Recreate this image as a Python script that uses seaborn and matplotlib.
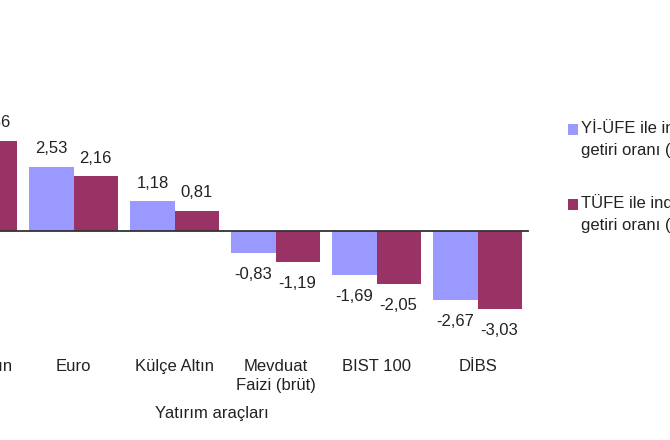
import numpy as np
import pandas as pd
import matplotlib
matplotlib.use('Agg')
import matplotlib.pyplot as plt
from matplotlib.patches import Patch, Rectangle
from matplotlib.legend_handler import HandlerPatch
import seaborn as sns

# values (first group is cropped in the reference)
categories = ['Gram Altın', 'Euro', 'Külçe Altın', 'Mevduat\nFaizi (brüt)', 'BIST 100', 'DİBS']
yi_ufe = [3.93, 2.53, 1.18, -0.83, -1.69, -2.67]
tufe = [3.56, 2.16, 0.81, -1.19, -2.05, -3.03]
series_names = ['Yİ-ÜFE ile indirgenmiş reel\ngetiri oranı (%)',
                'TÜFE ile indirgenmiş reel\ngetiri oranı (%)']
colors = ['#9999FF', '#993366']

df = pd.DataFrame({
    'Kategori': categories * 2,
    'Deger': yi_ufe + tufe,
    'Seri': [series_names[0]] * len(categories) + [series_names[1]] * len(categories),
})

sns.set_style('white')
plt.rcParams['font.family'] = ['Liberation Sans', 'DejaVu Sans']

fig = plt.figure(figsize=(6.7, 4.4), dpi=100)
# axes deliberately spill past the left edge, like the cropped reference
ax = fig.add_axes([-78 / 670, 106.5 / 440, 606 / 670, 229.5 / 440])

sns.barplot(data=df, x='Kategori', y='Deger', hue='Seri', palette=colors,
            width=0.875, saturation=1, linewidth=0, legend=False, ax=ax)

ax.set_xlim(-0.5, len(categories) - 0.5)
ax.set_ylim(-4, 5)
ax.set_yticks([])
ax.set_xlabel('')
ax.set_ylabel('')

# value labels
for cont in ax.containers:
    for bar in cont:
        v = bar.get_height()
        ax.annotate(f'{v:.2f}'.replace('.', ','),
                    xy=(bar.get_x() + bar.get_width() / 2, v),
                    xytext=(0, 13 if v >= 0 else -15.5), textcoords='offset points',
                    ha='center', va='center', fontsize=12, color='#222222',
                    annotation_clip=False)

# zero line with boundary ticks
for s in ['top', 'left', 'right']:
    ax.spines[s].set_visible(False)
ax.spines['bottom'].set_position(('data', 0))
ax.spines['bottom'].set_color('#333333')
ax.spines['bottom'].set_linewidth(1.3)
ax.set_xticks(np.arange(-0.5, len(categories), 1), minor=True)
ax.tick_params(axis='x', which='major', length=0, labelbottom=False)
ax.tick_params(axis='x', which='minor', direction='out', length=5, width=1.3, color='#333333')

# category labels at the bottom of the plot area
sec = ax.secondary_xaxis('bottom')
sec.set_xticks(range(len(categories)), categories)
sec.tick_params(length=0, pad=18.5, labelsize=12, labelcolor='#222222')
for t in sec.get_xticklabels():
    t.set_linespacing(1.35)
sec.spines['bottom'].set_visible(False)
sec.set_xlabel('Yatırım araçları', fontsize=12, color='#222222', x=0.479, labelpad=9)


# legend square sits next to the first line of each two-line label
def square_first_line(legend, orig_handle, xdescent, ydescent, width, height, fontsize):
    return Rectangle((-xdescent, -ydescent + 6.5), width, height)


handles = [Patch(facecolor=c, edgecolor='none') for c in colors]
leg = fig.legend(handles, series_names, loc='upper left', bbox_to_anchor=(0.848, 0.730),
                 frameon=False, fontsize=12, handlelength=0.6, handleheight=0.6,
                 handletextpad=0.15, labelspacing=2.15, borderpad=0, borderaxespad=0,
                 labelcolor='#222222',
                 handler_map={Patch: HandlerPatch(patch_func=square_first_line)})
for t in leg.get_texts():
    t.set_linespacing(1.6)

fig.savefig('out.png', dpi=100)
